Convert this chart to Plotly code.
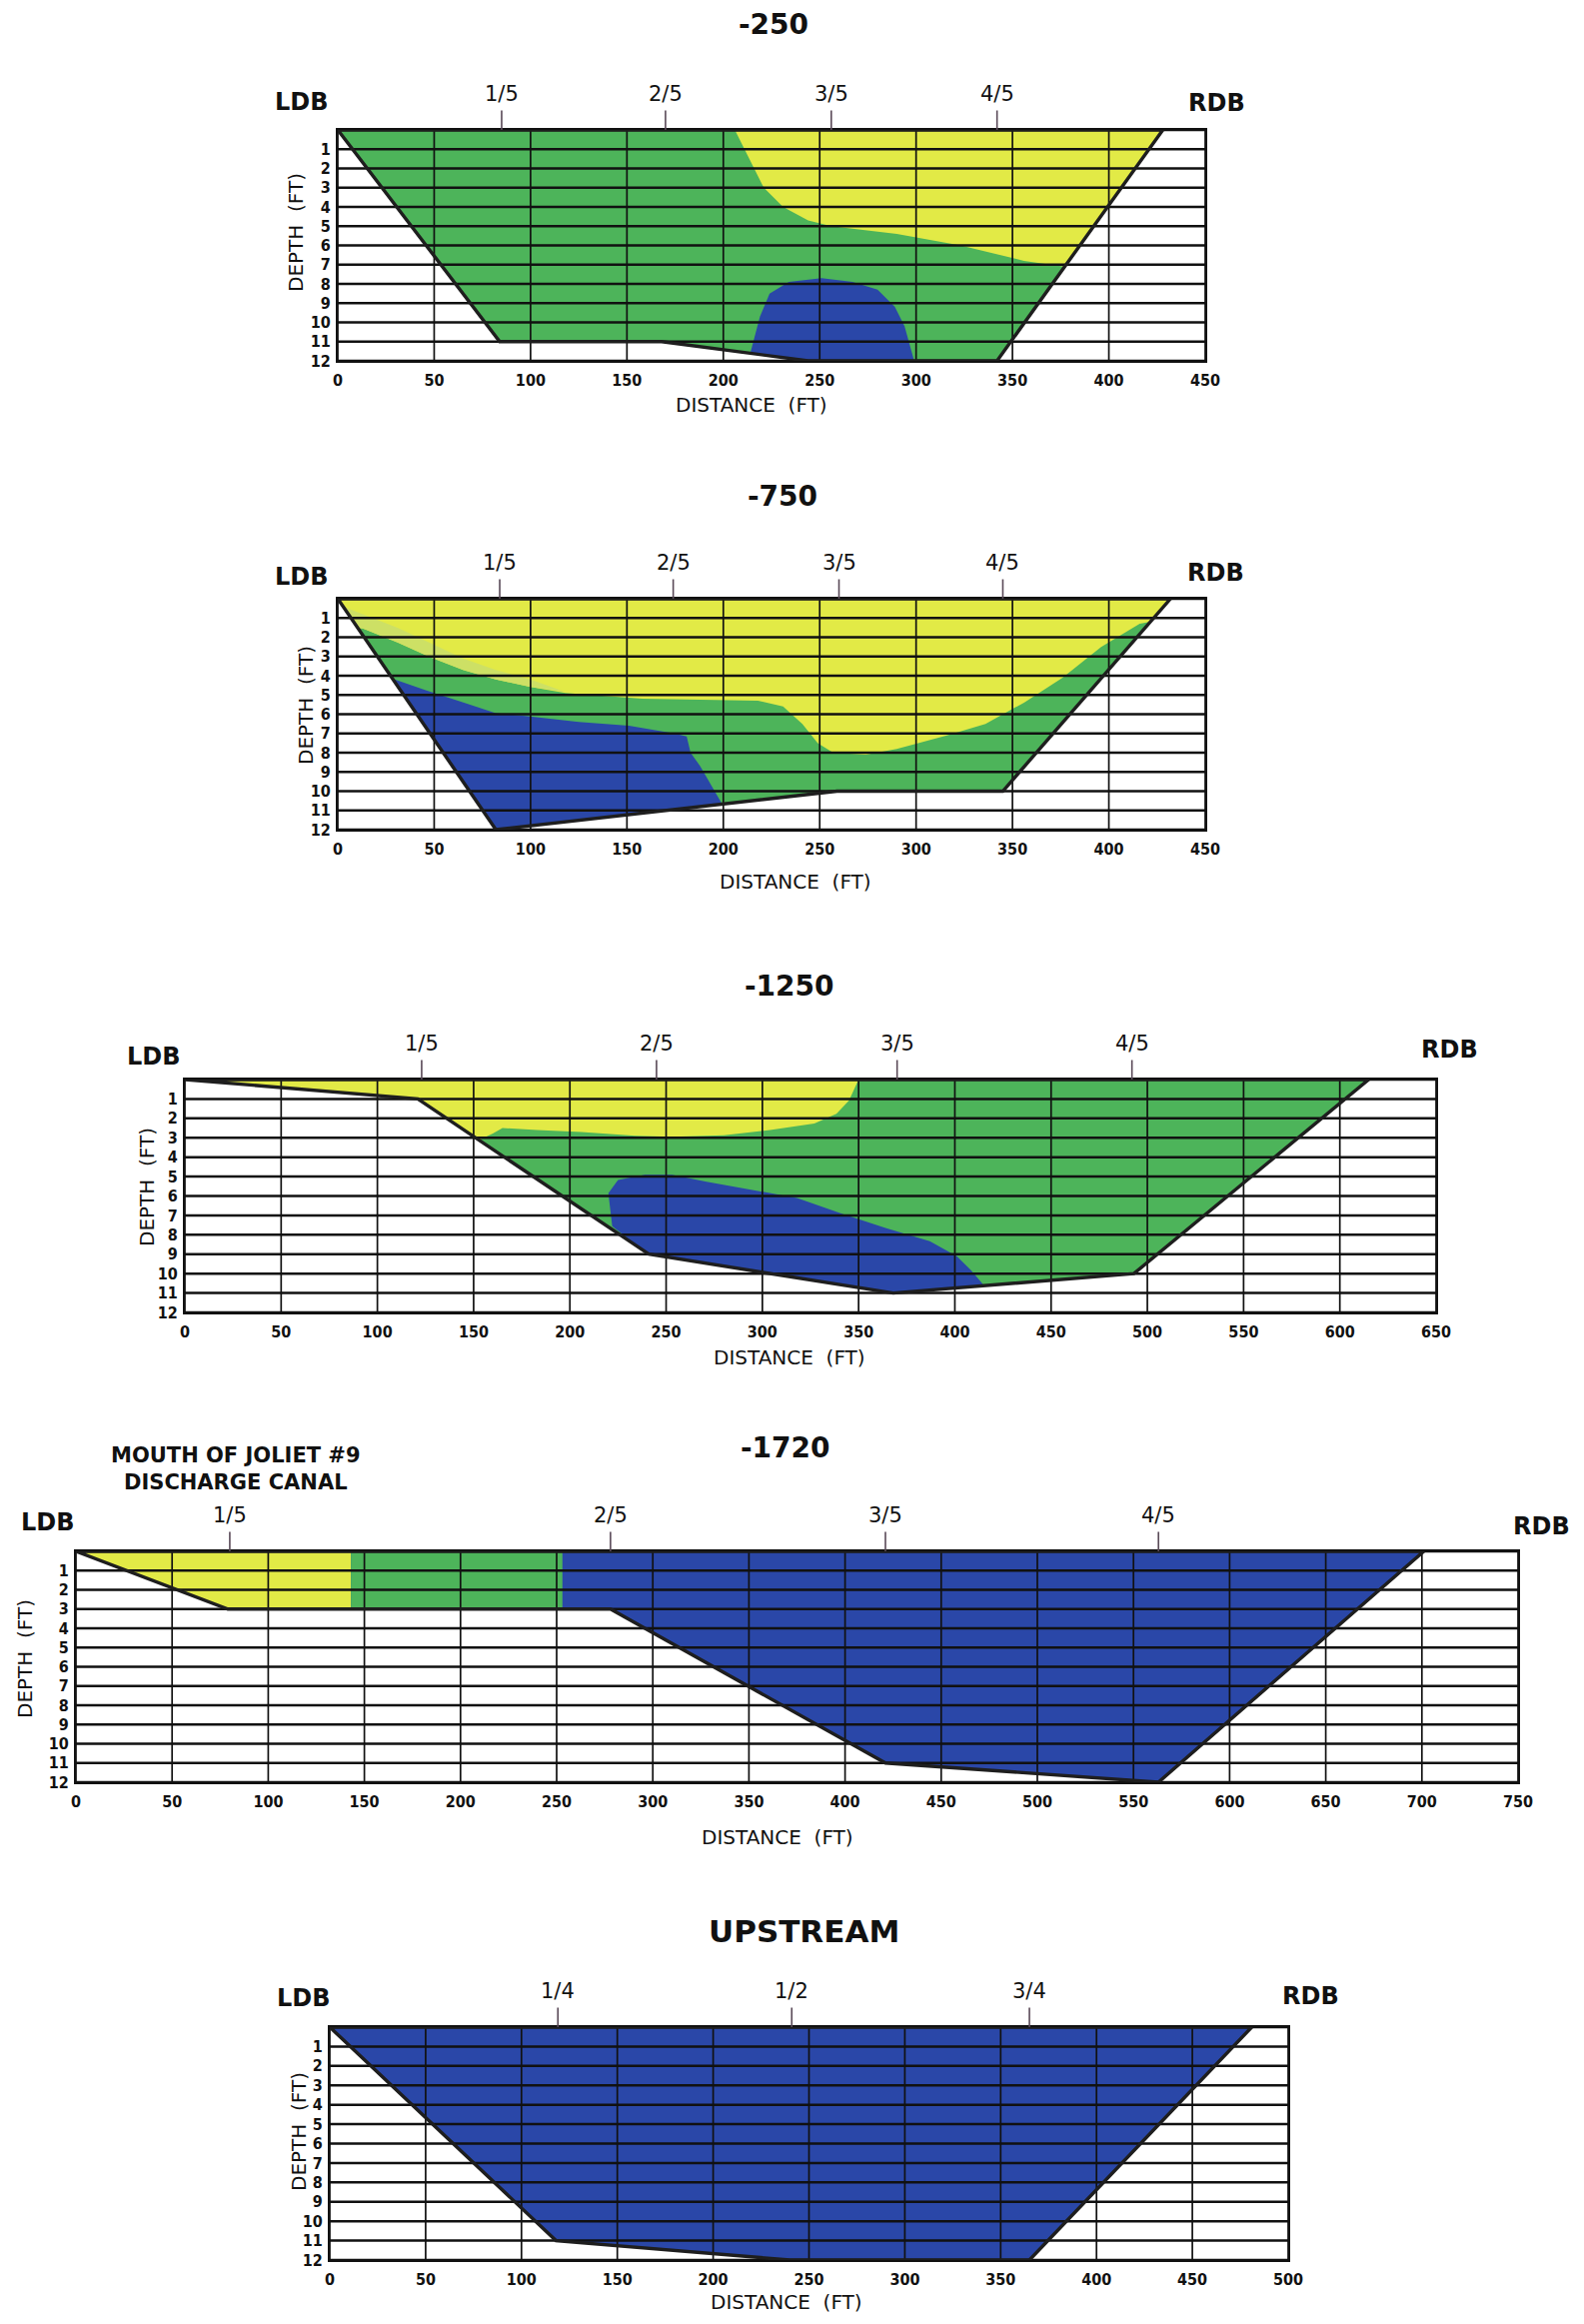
import plotly.graph_objects as go

W, H = 1585, 2325
GREEN = "#4db45a"
YELLOW = "#e2ea46"
PALE = "#cde065"
BLUE = "#2a47a8"
OUTLINE = "#1e1e1e"

# ---------------- data ----------------
# Panel 1 : -250
p1_xmax = 450
p1_bed_x = [0, 84, 168, 244, 342, 428]
p1_bed_d = [0, 11, 11, 12, 12, 0]
p1_yellow_x = [206, 211, 216, 221, 231, 244, 256, 290, 323, 356, 377, 428]
p1_yellow_d = [0, 1, 2, 3, 4, 4.7, 5, 5.4, 6, 6.8, 7.1, 0]
p1_blue_x = [214, 219, 224, 234, 251, 267, 280, 289, 294, 297, 299, 244]
p1_blue_d = [11.6, 9.7, 8.5, 7.9, 7.7, 7.9, 8.3, 9.2, 10.2, 11.3, 12, 12]
p1_frac_x = [85, 170, 256, 342]
p1_frac_lbl = ["1/5", "2/5", "3/5", "4/5"]

# Panel 2 : -750
p2_xmax = 450
p2_bed_x = [0, 82, 259, 345, 432]
p2_bed_d = [0, 12, 10, 10, 0]
p2_yellow_x = [0, 432, 421.6, 416, 396, 376, 356, 336, 316, 290, 274, 257, 249, 241,
               231, 218, 158, 118, 100, 82, 65, 48, 31, 13, 10]
p2_yellow_d = [0, 0, 1.2, 1.3, 2.5, 4.1, 5.4, 6.5, 7.1, 7.8, 8.1, 8.0, 7.5, 6.5,
               5.6, 5.3, 5.2, 4.9, 4.58, 4.2, 3.7, 3.04, 2.27, 1.55, 1.5]
p2_pale_x = [2.7, 13, 31, 48, 65, 82, 100, 118, 100, 82, 65, 48, 31, 13, 10]
p2_pale_d = [0.4, 0.8, 1.5, 2.3, 3.1, 3.7, 4.2, 4.85, 4.58, 4.2, 3.7, 3.04, 2.27, 1.55, 1.5]
p2_blue_x = [28.4, 45.6, 65.5, 82, 98.5, 125, 151, 174.6, 181, 183, 188, 193, 198, 199.4, 82]
p2_blue_d = [4.15, 4.75, 5.4, 5.95, 6.1, 6.4, 6.6, 7.0, 7.15, 8.0, 8.7, 9.55, 10.4, 10.68, 12]
p2_frac_x = [84, 174, 260, 345]
p2_frac_lbl = ["1/5", "2/5", "3/5", "4/5"]

# Panel 3 : -1250
p3_xmax = 650
p3_bed_x = [0, 121, 241, 368, 493, 615]
p3_bed_d = [0, 1, 9, 11, 10, 0]
p3_yellow_x = [0, 350, 345, 338.5, 327, 304, 280, 253, 234, 206, 183, 165, 160, 153, 121]
p3_yellow_d = [0, 0, 1.08, 1.76, 2.27, 2.6, 2.87, 2.95, 2.9, 2.7, 2.6, 2.5, 2.78, 3.1, 1]
p3_blue_x = [238.5, 222, 220, 225, 239, 253, 271, 290, 318, 341, 364, 387, 401, 408, 415, 368, 241]
p3_blue_d = [8.83, 7.56, 5.86, 5.17, 4.9, 4.9, 5.26, 5.6, 6.1, 6.9, 7.65, 8.33, 9.1, 9.78, 10.6, 11, 9]
p3_frac_x = [123, 245, 370, 492]
p3_frac_lbl = ["1/5", "2/5", "3/5", "4/5"]

# Panel 4 : -1720
p4_xmax = 750
p4_bed_x = [0, 79, 278, 421, 563, 701]
p4_bed_d = [0, 3, 3, 11, 12, 0]
p4_yellow_x = [0, 143, 143, 79]
p4_yellow_d = [0, 0, 3, 3]
p4_green_x = [143, 253, 253, 143]
p4_green_d = [0, 0, 3, 3]
p4_frac_x = [80, 278, 421, 563]
p4_frac_lbl = ["1/5", "2/5", "3/5", "4/5"]

# Panel 5 : UPSTREAM
p5_xmax = 500
p5_bed_x = [0, 118, 240, 365, 481]
p5_bed_d = [0, 11, 12, 12, 0]
p5_frac_x = [119, 241, 365]
p5_frac_lbl = ["1/4", "1/2", "3/4"]

depth_ticks = list(range(1, 13))

# ---------------- layout specs (pixel positions) ----------------
panels = [
    dict(title="-250", tsize=28, xmax=p1_xmax, bed=(p1_bed_x, p1_bed_d), base=GREEN,
         zones=[(YELLOW, p1_yellow_x, p1_yellow_d), (BLUE, p1_blue_x, p1_blue_d)],
         frac=(p1_frac_x, p1_frac_lbl),
         px=(338, 1206), py=(130, 361), title_pos=(774, 25), ldb=(302, 102), rdb=(1217, 103),
         dist=(752, 405), depth=(296, 233)),
    dict(title="-750", tsize=28, xmax=p2_xmax, bed=(p2_bed_x, p2_bed_d), base=GREEN,
         zones=[(YELLOW, p2_yellow_x, p2_yellow_d), (PALE, p2_pale_x, p2_pale_d),
                (BLUE, p2_blue_x, p2_blue_d)],
         frac=(p2_frac_x, p2_frac_lbl),
         px=(338, 1206), py=(599, 830), title_pos=(783, 497), ldb=(302, 577), rdb=(1216, 573),
         dist=(796, 882), depth=(306, 706)),
    dict(title="-1250", tsize=28, xmax=p3_xmax, bed=(p3_bed_x, p3_bed_d), base=GREEN,
         zones=[(YELLOW, p3_yellow_x, p3_yellow_d), (BLUE, p3_blue_x, p3_blue_d)],
         frac=(p3_frac_x, p3_frac_lbl),
         px=(185, 1437), py=(1080, 1313), title_pos=(790, 986), ldb=(154, 1057), rdb=(1450, 1050),
         dist=(790, 1358), depth=(147, 1188)),
    dict(title="-1720", tsize=28, xmax=p4_xmax, bed=(p4_bed_x, p4_bed_d), base=BLUE,
         zones=[(YELLOW, p4_yellow_x, p4_yellow_d), (GREEN, p4_green_x, p4_green_d)],
         frac=(p4_frac_x, p4_frac_lbl),
         px=(76, 1519), py=(1552, 1783), title_pos=(786, 1449), ldb=(48, 1523), rdb=(1542, 1527),
         dist=(778, 1838), depth=(25, 1660)),
    dict(title="UPSTREAM", tsize=31, xmax=p5_xmax, bed=(p5_bed_x, p5_bed_d), base=BLUE,
         zones=[],
         frac=(p5_frac_x, p5_frac_lbl),
         px=(330, 1289), py=(2028, 2261), title_pos=(805, 1932), ldb=(304, 1999), rdb=(1311, 1997),
         dist=(787, 2303), depth=(299, 2133)),
]

HEAVY = "DejaVu Sans, sans-serif"
THIN = "DejaVu Sans, sans-serif"
TICKF = "Liberation Sans Narrow, DejaVu Sans Condensed, sans-serif"
NB = "\u00a0"


def fx(px):
    return px / W


def fy(py):
    return 1 - py / H


def label(text, pos, font, **kw):
    return dict(text=text, x=fx(pos[0]), y=fy(pos[1]), xref="paper", yref="paper",
                xanchor="center", yanchor="middle", showarrow=False, font=font, **kw)


fig = go.Figure()
annotations = []
layout = {}

for i, p in enumerate(panels, start=1):
    xa = "x" if i == 1 else f"x{i}"
    ya = "y" if i == 1 else f"y{i}"
    bx, bd = p["bed"]
    common = dict(xaxis=xa, yaxis=ya, hoverinfo="skip", showlegend=False, mode="lines")

    fig.add_trace(go.Scatter(x=bx, y=bd, fill="toself", fillcolor=p["base"],
                             line=dict(width=0), **common))
    for color, zx, zd in p["zones"]:
        fig.add_trace(go.Scatter(x=zx, y=zd, fill="toself", fillcolor=color,
                                 line=dict(width=0), **common))

    # grid
    gx, gy = [], []
    for d in range(0, 13):
        gx += [0, p["xmax"], None]
        gy += [d, d, None]
    fig.add_trace(go.Scatter(x=gx, y=gy, line=dict(color="#111", width=2.5), **common))
    vx, vy = [], []
    for xv in range(0, p["xmax"] + 1, 50):
        vx += [xv, xv, None]
        vy += [0, 12, None]
    fig.add_trace(go.Scatter(x=vx, y=vy, line=dict(color="#111", width=1.7), **common))

    # channel outline
    fig.add_trace(go.Scatter(x=list(bx) + [bx[0]], y=list(bd) + [bd[0]],
                             line=dict(color=OUTLINE, width=3.4), **common))

    xkey = "xaxis" if i == 1 else f"xaxis{i}"
    ykey = "yaxis" if i == 1 else f"yaxis{i}"
    xt = list(range(0, p["xmax"] + 1, 50))
    layout[xkey] = dict(
        domain=[fx(p["px"][0]), fx(p["px"][1])], anchor=ya, range=[0, p["xmax"]],
        showgrid=False, zeroline=False, showline=True, mirror=True, linecolor="#111",
        linewidth=2, tickvals=xt, ticktext=[str(v) for v in xt], ticks="",
        ticklabelstandoff=4, automargin=False,
        tickfont=dict(family=TICKF, size=16, color="#111", weight="bold"),
    )
    layout[ykey] = dict(
        domain=[fy(p["py"][1]), fy(p["py"][0])], anchor=xa, range=[12, 0],
        showgrid=False, zeroline=False, showline=True, mirror=True, linecolor="#111",
        linewidth=2, tickvals=depth_ticks, ticktext=[str(v) for v in depth_ticks], ticks="",
        ticklabelstandoff=2, automargin=False,
        tickfont=dict(family=TICKF, size=16, color="#111", weight="bold"),
    )

    annotations.append(label(p["title"], p["title_pos"],
                             dict(family=HEAVY, size=p["tsize"], color="#111", weight="bold")))
    annotations.append(label("LDB", p["ldb"], dict(family=HEAVY, size=24, color="#111", weight="bold")))
    annotations.append(label("RDB", p["rdb"], dict(family=HEAVY, size=24, color="#111", weight="bold")))
    annotations.append(label(f"DISTANCE{NB}{NB}(FT)", p["dist"],
                             dict(family=THIN, size=20, color="#111")))
    annotations.append(label(f"DEPTH{NB}{NB}(FT)", p["depth"],
                             dict(family=THIN, size=20, color="#111"), textangle=-90))
    # fraction markers
    fxs, flbl = p["frac"]
    for xv, lbl in zip(fxs, flbl):
        annotations.append(dict(text=lbl, x=xv, y=0, xref=xa, yref=ya, showarrow=True,
                                arrowhead=0, arrowwidth=1.6, arrowcolor="#5a4a58",
                                ax=0, ay=-36, startstandoff=3,
                                font=dict(family=THIN, size=21, color="#111")))

annotations.append(label("MOUTH OF JOLIET #9<br>DISCHARGE CANAL", (236, 1469),
                         dict(family=HEAVY, size=21, color="#111", weight="bold")))

fig.update_layout(
    width=W, height=H, autosize=False, margin=dict(l=0, r=0, t=0, b=0, pad=0, autoexpand=False),
    paper_bgcolor="white", plot_bgcolor="white", showlegend=False,
    annotations=annotations, **layout,
)

fig.write_html("out.html", config={"responsive": False})
